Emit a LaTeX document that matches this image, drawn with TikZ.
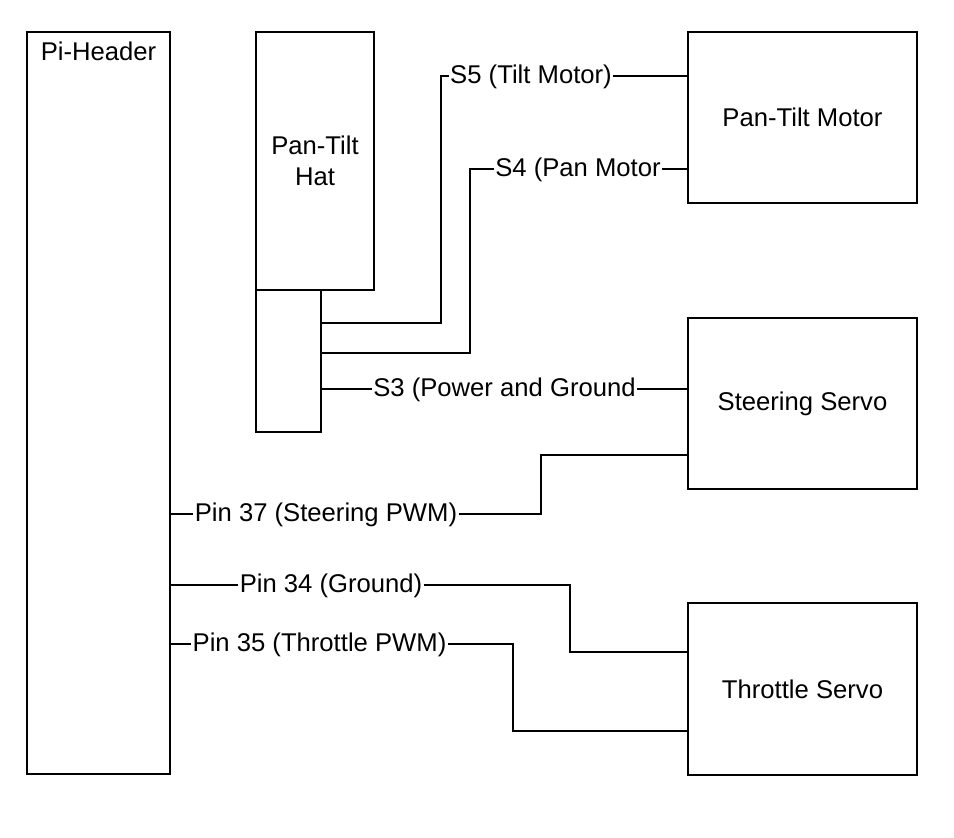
\documentclass[tikz,border=0pt]{standalone}
\usepackage{fontspec}
\setmainfont{Liberation Sans}
\usepackage{tikz}
\usetikzlibrary{positioning, calc}

\tikzset{
    blocco/.style={draw, line width=1.6pt, inner sep=0pt, align=center},
    filo/.style={line width=1.6pt},
    etichetta/.style={inner sep=0.6pt},
}

\begin{document}
\begin{tikzpicture}[x=0.02cm, y=-0.02cm, font=\fontsize{14.6pt}{17.6pt}\selectfont]
        \useasboundingbox (0,0) rectangle (954,838);
        %disegno blocchi
        \node[blocco, minimum width=143*0.02cm, minimum height=742*0.02cm] (pi) at (98.5,403) {};
        \node[anchor=north, inner sep=0pt] (pilabel) at ([yshift=-0.22cm]pi.north) {Pi-Header};
        \node[blocco, minimum width=118*0.02cm, minimum height=258*0.02cm] (hat) at (315,161) {Pan-Tilt\\Hat};
        \node[blocco, minimum width=65*0.02cm, minimum height=142*0.02cm] (hatpins) at (288.5,361) {};
        \node[blocco, minimum width=229*0.02cm, minimum height=171*0.02cm] (motor) at (802.5,117.5) {Pan-Tilt Motor};
        \node[blocco, minimum width=229*0.02cm, minimum height=171*0.02cm] (steer) at (802.5,403.5) {Steering Servo};
        \node[blocco, minimum width=229*0.02cm, minimum height=172*0.02cm] (throttle) at (802.5,689) {Throttle Servo};
        %disegno etichette dei fili
        \node[etichetta] (s5) at (531,77) {S5 (Tilt Motor)};
        \node[etichetta] (s4) at (578,170) {S4 (Pan Motor};
        \node[etichetta] (s3) at (504.5,390) {S3 (Power and Ground};
        \node[etichetta] (pin37) at (326,515) {Pin 37 (Steering PWM)};
        \node[etichetta] (pin34) at (331,586) {Pin 34 (Ground)};
        \node[etichetta] (pin35) at (319.5,645) {Pin 35 (Throttle PWM)};
        %disegno fili dal pan-tilt hat
        \draw[filo] (hatpins.east |- 0,323) -| (441,76) -- (s5.west |- 0,76);
        \draw[filo] (s5.east |- 0,76) -- (motor.west |- 0,76);
        \draw[filo] (hatpins.east |- 0,353) -| (470,169) -- (s4.west |- 0,169);
        \draw[filo] (s4.east |- 0,169) -- (motor.west |- 0,169);
        \draw[filo] (hatpins.east |- 0,389) -- (s3.west |- 0,389);
        \draw[filo] (s3.east |- 0,389) -- (steer.west |- 0,389);
        %disegno fili dal pi-header
        \draw[filo] (pi.east |- 0,514) -- (pin37.west |- 0,514);
        \draw[filo] (pin37.east |- 0,514) -| (541,455) -- (steer.west |- 0,455);
        \draw[filo] (pi.east |- 0,585) -- (pin34.west |- 0,585);
        \draw[filo] (pin34.east |- 0,585) -| (570,652) -- (throttle.west |- 0,652);
        \draw[filo] (pi.east |- 0,644) -- (pin35.west |- 0,644);
        \draw[filo] (pin35.east |- 0,644) -| (513,731) -- (throttle.west |- 0,731);
    \end{tikzpicture}
\end{document}
